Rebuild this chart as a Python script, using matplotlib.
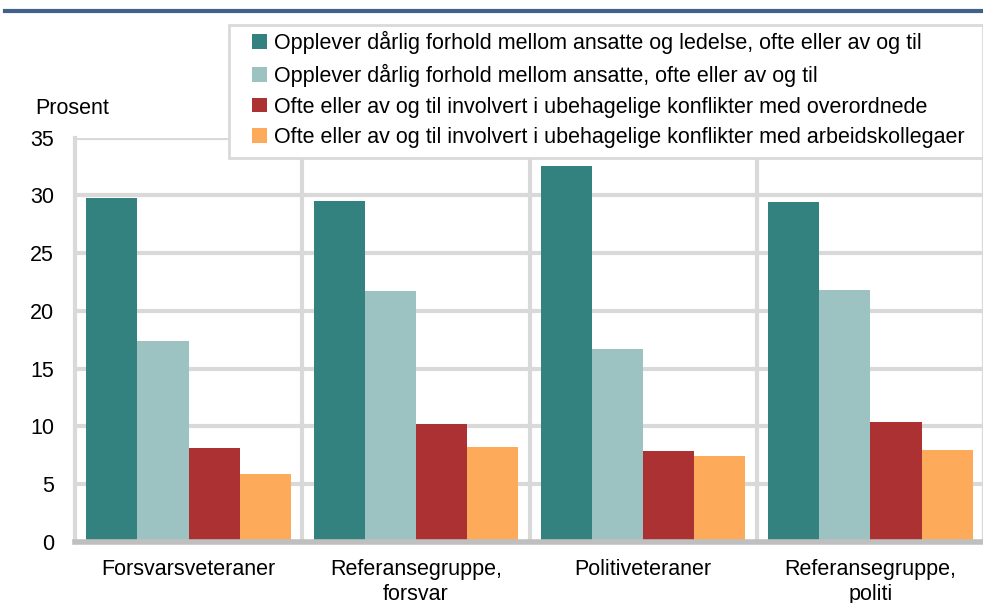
import numpy as np
import matplotlib
matplotlib.use("Agg")
import matplotlib.pyplot as plt
from matplotlib.lines import Line2D
from matplotlib.patches import Rectangle

plt.rcParams["font.family"] = ["Liberation Sans", "DejaVu Sans"]

# Data
groups = ["Forsvarsveteraner", "Referansegruppe,\nforsvar", "Politiveteraner", "Referansegruppe,\npoliti"]
series_names = [
    "Opplever dårlig forhold mellom ansatte og ledelse, ofte eller av og til",
    "Opplever dårlig forhold mellom ansatte, ofte eller av og til",
    "Ofte eller av og til involvert i ubehagelige konflikter med overordnede",
    "Ofte eller av og til involvert i ubehagelige konflikter med arbeidskollegaer",
]
ledelse = [29.8, 29.5, 32.5, 29.4]
ansatte = [17.4, 21.7, 16.7, 21.8]
overordnede = [8.1, 10.2, 7.9, 10.4]
kollegaer = [5.9, 8.2, 7.4, 8.0]
colors = ["#34827f", "#9cc3c2", "#ab3133", "#fdaa5a"]

fs = 15.5
fig = plt.figure(figsize=(9.83, 6.03), dpi=100)
W, H = 983, 603
ax = fig.add_axes([75 / W, (H - 542) / H, (984 - 75) / W, (542 - 137.5) / H])

x = np.arange(len(groups)) + 0.5
bw = 0.225
for i, vals in enumerate([ledelse, ansatte, overordnede, kollegaer]):
    ax.bar(x + (i - 1.5) * bw, vals, width=bw, color=colors[i], label=series_names[i], zorder=3)

ax.set_xlim(0, 4)
ax.set_ylim(0, 35)
ax.set_yticks(range(0, 36, 5))
ax.set_xticks(x)
ax.set_xticklabels(groups, fontsize=fs, linespacing=1.3)
ax.tick_params(axis="y", labelsize=fs, length=0, pad=15)
ax.tick_params(axis="x", length=0, pad=12)

# gridlines
for v in range(5, 36, 5):
    ax.axhline(v, color="#d9d9d9", lw=3, zorder=1)
for v in [1, 2, 3, 4]:
    ax.axvline(v, color="#d9d9d9", lw=3, zorder=1)
for s in ["top", "right"]:
    ax.spines[s].set_visible(False)
ax.spines["left"].set_color("#d9d9d9")
ax.spines["left"].set_linewidth(3)
ax.spines["bottom"].set_color("#bfbfbf")
ax.spines["bottom"].set_linewidth(4)
ax.spines["bottom"].set_zorder(4)

fig.text(35 / W, (H - 108) / H, "Prosent", fontsize=fs, va="center", ha="left")

# legend box
box = Rectangle((229 / W, (H - 158) / H), (983 - 229) / W, (158 - 25) / H,
                transform=fig.transFigure, facecolor="white", edgecolor="#d9d9d9",
                lw=2, zorder=5)
fig.add_artist(box)
leg = fig.legend(loc="upper left", bbox_to_anchor=(252 / W, (H - 31) / H), fontsize=fs,
                 frameon=False, handlelength=0.68, handleheight=0.68,
                 handletextpad=0.36, labelspacing=0.45, borderpad=0, borderaxespad=0)
leg.set_zorder(6)

# top rule
fig.add_artist(Line2D([5 / W, 1], [(H - 11) / H] * 2, color="#41608a", lw=3))

plt.savefig("out.png", dpi=100)
